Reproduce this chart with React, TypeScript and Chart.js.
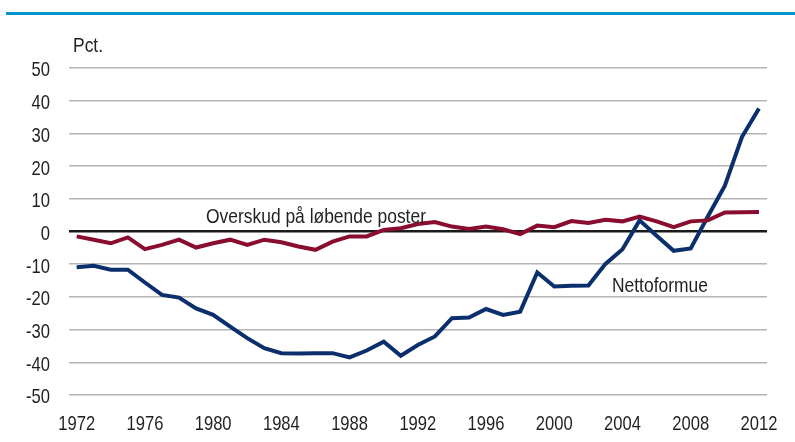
import React, { useEffect, useRef } from "react";
import { Chart, registerables } from "chart.js";

Chart.register(...registerables);

const years = [
  1972, 1973, 1974, 1975, 1976, 1977, 1978, 1979, 1980, 1981, 1982, 1983, 1984, 1985,
  1986, 1987, 1988, 1989, 1990, 1991, 1992, 1993, 1994, 1995, 1996, 1997, 1998, 1999,
  2000, 2001, 2002, 2003, 2004, 2005, 2006, 2007, 2008, 2009, 2010, 2011, 2012,
];

const nettoformue = [
  -10.9, -10.5, -11.7, -11.7, -15.6, -19.4, -20.2, -23.5, -25.5, -29.1, -32.6, -35.7, -37.2, -37.3,
  -37.2, -37.2, -38.5, -36.4, -33.7, -38.0, -34.7, -32.1, -26.5, -26.3, -23.7, -25.5, -24.5, -12.5,
  -16.8, -16.6, -16.5, -9.9, -5.4, 3.4, -1.3, -5.9, -5.2, 4.6, 14.0, 28.9, 37.6,
];

const overskud = [
  -1.5, -2.5, -3.6, -1.8, -5.4, -4.1, -2.5, -4.9, -3.6, -2.5, -4.1, -2.5, -3.3, -4.6,
  -5.6, -3.1, -1.5, -1.5, 0.5, 1.0, 2.3, 2.9, 1.5, 0.8, 1.5, 0.7, -0.8, 1.8,
  1.3, 3.2, 2.6, 3.6, 3.1, 4.6, 3.1, 1.3, 3.1, 3.4, 5.8, 5.9, 6.0,
];

const xTicks = [1972, 1976, 1980, 1984, 1988, 1992, 1996, 2000, 2004, 2008, 2012];
const yTicks = [50, 40, 30, 20, 10, 0, -10, -20, -30, -40, -50];

const FONT = '"Liberation Sans", Arial, sans-serif';
const TEXT = "#231f20";
const TICK_SQUEEZE = 0.79;
const LABEL_SQUEEZE = 0.83;

function drawSqueezed(ctx: CanvasRenderingContext2D, text: string, x: number, y: number, align: CanvasTextAlign) {
  ctx.save();
  ctx.translate(x, y);
  ctx.scale(TICK_SQUEEZE, 1);
  ctx.textAlign = align;
  ctx.fillText(text, 0, 0);
  ctx.restore();
}

const condensedTicks = {
  id: "condensedTicks",
  afterDraw(chart: any) {
    const ctx: CanvasRenderingContext2D = chart.ctx;
    const xs = chart.scales.x;
    const ys = chart.scales.y;
    ctx.save();
    ctx.fillStyle = TEXT;
    ctx.font = `21px ${FONT}`;
    ctx.textBaseline = "alphabetic";
    xs.ticks.forEach((t: any) => {
      drawSqueezed(ctx, String(t.value), xs.getPixelForValue(t.value), ys.bottom + 35, "center");
    });
    ys.ticks.forEach((t: any) => {
      drawSqueezed(ctx, String(t.value), chart.chartArea.left - 19, ys.getPixelForValue(t.value) + 8.4, "right");
    });
    ctx.restore();
  },
};

export default function App() {
  const ref = useRef<HTMLCanvasElement | null>(null);

  useEffect(() => {
    document.body.style.margin = "0";
    if (!ref.current) return;
    const chart = new Chart(ref.current, {
      type: "line",
      data: {
        datasets: [
          {
            label: "Overskud på løbende poster",
            data: years.map((y, i) => ({ x: y, y: overskud[i] })),
            borderColor: "#8a0c2e",
            borderWidth: 4,
            pointRadius: 0,
            tension: 0,
          },
          {
            label: "Nettoformue",
            data: years.map((y, i) => ({ x: y, y: nettoformue[i] })),
            borderColor: "#0b2f6c",
            borderWidth: 4,
            pointRadius: 0,
            tension: 0,
          },
        ],
      },
      options: {
        animation: false,
        responsive: false,
        devicePixelRatio: 1,
        layout: { padding: { top: 68, left: 0, right: 28, bottom: 0 } },
        plugins: { legend: { display: false }, tooltip: { enabled: false } },
        scales: {
          x: {
            type: "linear",
            min: 1971.55,
            max: 2012.47,
            grid: { display: false },
            border: { display: false },
            afterBuildTicks: (s: any) => {
              s.ticks = xTicks.map((v) => ({ value: v }));
            },
            afterFit: (s: any) => {
              s.height = 47;
            },
            ticks: { display: false },
          },
          y: {
            min: -50,
            max: 50,
            afterBuildTicks: (s: any) => {
              s.ticks = yTicks.map((v) => ({ value: v }));
            },
            afterFit: (s: any) => {
              s.width = 69;
            },
            border: { display: false },
            grid: {
              drawTicks: false,
              color: (c: any) => (c.tick && c.tick.value === 0 ? "#1a1a1a" : "#b4b4b4"),
              lineWidth: (c: any) => (c.tick && c.tick.value === 0 ? 2.5 : 1.5),
            },
            ticks: { display: false },
          },
        },
      },
      plugins: [condensedTicks],
    });
    return () => chart.destroy();
  }, []);

  const label: React.CSSProperties = {
    position: "absolute",
    fontFamily: FONT,
    fontSize: 21,
    lineHeight: "21px",
    color: TEXT,
    whiteSpace: "nowrap",
    transform: `scaleX(${LABEL_SQUEEZE})`,
    transformOrigin: "left top",
  };

  return (
    <div style={{ position: "absolute", left: 0, top: 0, width: 795, height: 442, background: "#fff", overflow: "hidden" }}>
      <div style={{ position: "absolute", left: 6, top: 12, width: 789, height: 3, background: "#0093d0" }} />
      <canvas ref={ref} width={795} height={442} style={{ position: "absolute", left: 0, top: 0 }} />
      <div style={{ ...label, left: 73, top: 34 }}>Pct.</div>
      <div style={{ ...label, left: 206, top: 205 }}>Overskud på løbende poster</div>
      <div style={{ ...label, left: 612, top: 274 }}>Nettoformue</div>
    </div>
  );
}
